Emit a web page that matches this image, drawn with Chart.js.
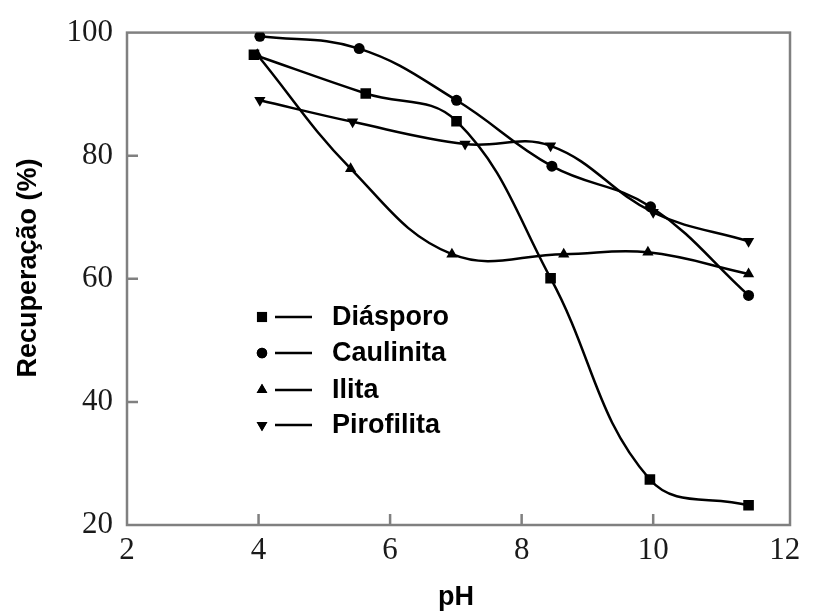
<!DOCTYPE html>
<html>
<head>
<meta charset="utf-8">
<script src="https://cdn.jsdelivr.net/npm/chart.js@4.4.0/dist/chart.umd.min.js"></script>
<style>
  html, body { margin: 0; padding: 0; background: #fff; }
</style>
</head>
<body>
<canvas id="grafico" width="814" height="613"></canvas>
<script>
// dados
const series = ['Diásporo', 'Caulinita', 'Ilita', 'Pirofilita'];
const phDiasporo = [3.93, 5.63, 7.01, 8.44, 9.95, 11.45];
const recDiasporo = [96.4, 90.1, 85.6, 60.1, 27.4, 23.2];
const phCaulinita = [4.02, 5.53, 7.01, 8.46, 9.96, 11.45];
const recCaulinita = [99.4, 97.4, 89.0, 78.3, 71.7, 57.3];
const phIlita = [3.98, 5.40, 6.94, 8.64, 9.92, 11.45];
const recIlita = [96.4, 77.9, 64.0, 64.0, 64.3, 60.8];
const phPirofilita = [4.02, 5.43, 7.14, 8.44, 10.0, 11.45];
const recPirofilita = [89.0, 85.5, 81.9, 81.6, 70.8, 66.1];
const xTicks = [2, 4, 6, 8, 10, 12];
const yTicks = [20, 40, 60, 80, 100];

const pontos = (xs, ys) => xs.map((x, i) => ({ x: x, y: ys[i] }));

// estilo de cada série (marcador)
const marcadores = [
  { style: 'rect', radius: 7.5, rotation: 0 },
  { style: 'circle', radius: 5.5, rotation: 0 },
  { style: 'triangle', radius: 6.5, rotation: 0 },
  { style: 'triangle', radius: 6.5, rotation: 180 }
];

const dadosSeries = [
  pontos(phDiasporo, recDiasporo),
  pontos(phCaulinita, recCaulinita),
  pontos(phIlita, recIlita),
  pontos(phPirofilita, recPirofilita)
];

const datasets = series.map((nome, i) => ({
  label: nome,
  data: dadosSeries[i],
  showLine: true,
  tension: 0.4,
  borderColor: '#000',
  backgroundColor: '#000',
  borderWidth: 2.5,
  pointStyle: marcadores[i].style,
  pointRadius: marcadores[i].radius,
  pointRotation: marcadores[i].rotation,
  pointBorderWidth: 0,
  pointHoverRadius: marcadores[i].radius
}));

// desenha moldura, marcas, títulos e legenda
const moldura = {
  id: 'moldura',
  beforeDatasetsDraw(chart) {
    const ctx = chart.ctx;
    const a = chart.chartArea;
    const sx = chart.scales.x, sy = chart.scales.y;
    ctx.save();
    ctx.strokeStyle = '#808080';
    ctx.lineWidth = 2.5;
    ctx.strokeRect(a.left, a.top, a.right - a.left, a.bottom - a.top);
    ctx.beginPath();
    xTicks.slice(1, -1).forEach(v => {
      const px = sx.getPixelForValue(v);
      ctx.moveTo(px, a.bottom);
      ctx.lineTo(px, a.bottom - 11);
    });
    yTicks.slice(1, -1).forEach(v => {
      const py = sy.getPixelForValue(v);
      ctx.moveTo(a.left, py);
      ctx.lineTo(a.left + 11, py);
    });
    ctx.stroke();
    ctx.restore();
  },
  afterDraw(chart) {
    const ctx = chart.ctx;
    ctx.save();
    ctx.fillStyle = '#000';
    ctx.font = 'bold 27px "Liberation Sans", Arial, sans-serif';
    ctx.textAlign = 'center';
    ctx.textBaseline = 'middle';
    ctx.fillText('pH', 456, 598);
    ctx.translate(29, 268);
    ctx.rotate(-Math.PI / 2);
    ctx.fillText('Recuperação (%)', 0, 0);
    ctx.restore();

    // legenda
    ctx.save();
    ctx.font = 'bold 27px "Liberation Sans", Arial, sans-serif';
    ctx.textBaseline = 'middle';
    ctx.textAlign = 'left';
    ctx.fillStyle = '#000';
    ctx.strokeStyle = '#000';
    const linhas = [317, 353, 390, 425];
    series.forEach((nome, i) => {
      const y = linhas[i];
      const m = marcadores[i];
      Chart.helpers.drawPoint(ctx, {
        pointStyle: m.style,
        radius: m.radius * 0.95,
        rotation: m.rotation,
        borderWidth: 0
      }, 262, y);
      ctx.fill();
      ctx.lineWidth = 2.5;
      ctx.beginPath();
      ctx.moveTo(275, y);
      ctx.lineTo(312, y);
      ctx.stroke();
      ctx.fillText(nome, 332, y + 1);
    });
    ctx.restore();
  }
};

new Chart(document.getElementById('grafico'), {
  type: 'scatter',
  data: { datasets: datasets },
  options: {
    responsive: false,
    animation: false,
    layout: { padding: { top: 30, right: 24, left: 0, bottom: 0 } },
    plugins: {
      legend: { display: false },
      tooltip: { enabled: false }
    },
    scales: {
      x: {
        type: 'linear',
        min: 2,
        max: 12.08,
        afterBuildTicks: s => { s.ticks = xTicks.map(v => ({ value: v })); },
        afterFit: s => { s.height = 88; },
        grid: { display: false, drawTicks: false },
        border: { display: false },
        ticks: {
          color: '#1a1a1a',
          padding: 7,
          maxRotation: 0,
          autoSkip: false,
          font: { family: '"Liberation Serif", "Times New Roman", serif', size: 31 }
        }
      },
      y: {
        min: 20,
        max: 100,
        afterBuildTicks: s => { s.ticks = yTicks.map(v => ({ value: v })); },
        afterFit: s => { s.width = 127; },
        grid: { display: false, drawTicks: false },
        border: { display: false },
        ticks: {
          color: '#1a1a1a',
          padding: 14,
          font: { family: '"Liberation Serif", "Times New Roman", serif', size: 31 }
        }
      }
    }
  },
  plugins: [moldura]
});
</script>
</body>
</html>
